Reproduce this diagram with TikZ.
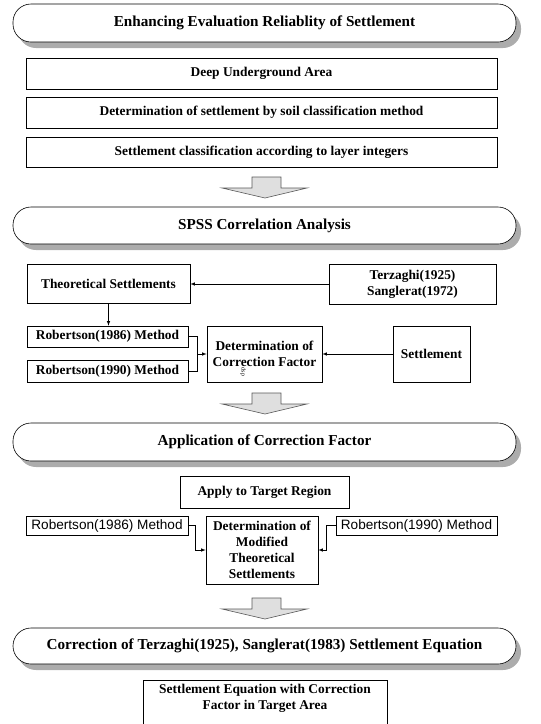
\documentclass[tikz,border=0pt]{standalone}
\usepackage{fontspec}
\setmainfont{Liberation Serif}
\newfontfamily\gulimfont{Liberation Sans}
\usetikzlibrary{shadows}
\tikzset{>=latex}
\tikzset{
  stage/.style={draw,line width=0.6pt,rounded corners=18pt,fill=white,minimum width=503pt,inner sep=0pt,
    font=\fontsize{15.2}{18}\selectfont\bfseries,
    drop shadow={shadow xshift=5pt,shadow yshift=-6pt,fill=gray!65,opacity=1}},
  box/.style={draw,line width=0.6pt,inner sep=0pt,align=center,font=\fontsize{13.4}{16}\selectfont\bfseries},
  sbox/.style={draw,line width=0.6pt,inner sep=0pt,font=\fontsize{13.6}{15}\selectfont\gulimfont},
  link/.style={line width=0.6pt},
  bigarrow/.style={draw=gray!70!black,fill=gray!25,line width=0.6pt}
}

\begin{document}
\begin{tikzpicture}[x=1pt,y=-1pt]
\useasboundingbox (0,0) rectangle (541,724);
% stages
\node[stage,minimum height=38pt] (enh) at (264.5,23) {Enhancing Evaluation Reliablity of Settlement};
\node[stage,minimum height=37pt] (spss) at (264.5,225.5) {SPSS Correlation Analysis};
\node[stage,minimum height=38pt] (appl) at (264.5,442) {Application of Correction Factor};
\node[stage,minimum height=36pt] (corr) at (264.5,646) {Correction of Terzaghi(1925), Sanglerat(1983) Settlement Equation};
% first block
\node[box,minimum width=471pt,minimum height=31pt] (deep) at (261.5,73.5) {Deep Underground Area};
\node[box,minimum width=471pt,minimum height=31pt] (soil) at (261.5,112.5) {Determination of settlement by soil classification method};
\node[box,minimum width=471pt,minimum height=30pt] (layer) at (261.5,152) {Settlement classification according to layer integers};
% correlation block
\node[box,minimum width=163pt,minimum height=39pt] (theo) at (108.5,283.5) {Theoretical Settlements};
\node[box,minimum width=167pt,minimum height=40pt] (terz) at (412.5,284) {Terzaghi(1925)\\Sanglerat(1972)};
\node[box,minimum width=161pt,minimum height=21pt] (rob86) at (107.5,336.5) {Robertson(1986) Method};
\node[box,minimum width=161pt,minimum height=22pt] (rob90) at (107.5,371) {Robertson(1990) Method};
\node[box,minimum width=115pt,minimum height=56pt] (cf) at (264.5,354) {Determination of\\Correction Factor};
\node[box,minimum width=77pt,minimum height=56pt] (sett) at (431.5,354) {Settlement};
\node[rotate=-90,font=\fontsize{6}{6}\selectfont] (dsp) at (243,372) {dsp};
\draw[link,->] (terz.west) -- (terz.west -| theo.east);
\draw[link,->] (theo.south) -- (theo.south |- rob86.north);
\draw[link] (rob86.east) -- ++(9,0) coordinate (j1) -- (j1 |- rob90.east) -- (rob90.east);
\draw[link,->] (j1 |- cf.west) -- (cf.west);
\draw[link,->] (sett.west) -- (cf.east);
% application block
\node[box,minimum width=169pt,minimum height=32pt] (target) at (264.5,492) {Apply to Target Region};
\node[sbox,minimum width=162pt,minimum height=19pt] (left86) at (107,525.5) {Robertson(1986) Method};
\node[sbox,minimum width=161pt,minimum height=19pt] (right90) at (416.5,525.5) {Robertson(1990) Method};
\node[box,minimum width=112pt,minimum height=68pt] (mod) at (262,550) {Determination of\\Modified\\Theoretical\\Settlements};
\draw[link,->] (left86.east) -- ++(7,0) |- (mod.west);
\draw[link,->] (right90.west) -- ++(-9,0) |- (mod.east);
% final
\node[box,anchor=north,minimum width=244pt,minimum height=62pt,text depth=28pt] (final) at (265,680) {Settlement Equation with Correction\\Factor in Target Area};
% arrows between stages
\foreach \t in {177,393,598}
  \draw[bigarrow] (252,\t) -- (281,\t) -- (281,\t+11) -- (307,\t+11) -- (265,\t+21) -- (222,\t+11) -- (252,\t+11) -- cycle;
\end{tikzpicture}
\end{document}
